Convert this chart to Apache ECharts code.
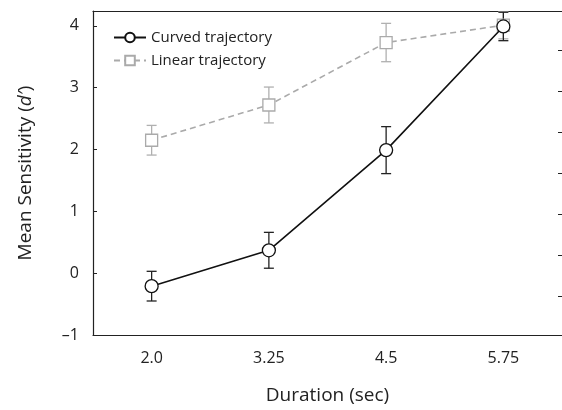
<!DOCTYPE html>
<html><head><meta charset="utf-8">
<script src="https://cdn.jsdelivr.net/npm/echarts@6/dist/echarts.min.js"></script>
<style>html,body{margin:0;padding:0;background:#fff}#c{width:562px;height:410px}</style>
</head><body><div id="c"></div>
<script>
const categories = ['2.0', '3.25', '4.5', '5.75'];
const curvedMean = [-0.21, 0.37, 1.99, 3.99];
const curvedErr = [0.24, 0.29, 0.38, 0.23];
const linearMean = [2.15, 2.72, 3.73, 4.01];
const linearErr = [0.24, 0.29, 0.31, 0.22];
const yTicks = [-1, 0, 1, 2, 3, 4];
const rightTicks = [0, 1, 2, 3, 4, 5, 6];

const FONT = 'Open Sans';
const chart = echarts.init(document.getElementById('c'));

function errSeries(name, mean, err, color) {
  return {
    type: 'custom', name: name + ' err', z: 1, silent: true,
    data: mean.map((m, i) => [i, m - err[i], m + err[i]]),
    renderItem: function (params, api) {
      const lo = api.coord([api.value(0), api.value(1)]);
      const hi = api.coord([api.value(0), api.value(2)]);
      const w = 5;
      const st = { stroke: color, lineWidth: 1.3, fill: null };
      return { type: 'group', children: [
        { type: 'line', shape: { x1: lo[0], y1: lo[1], x2: hi[0], y2: hi[1] }, style: st },
        { type: 'line', shape: { x1: lo[0] - w, y1: lo[1], x2: lo[0] + w, y2: lo[1] }, style: st },
        { type: 'line', shape: { x1: hi[0] - w, y1: hi[1], x2: hi[0] + w, y2: hi[1] }, style: st }
      ]};
    },
    encode: { x: 0, y: [1, 2] }
  };
}

chart.setOption({
  animation: false,
  textStyle: { fontFamily: FONT },
  grid: { left: 93, top: 11, right: 0, bottom: 73 },
  legend: {
    orient: 'vertical', left: 108, top: 25, itemWidth: 32, itemHeight: 12, itemGap: 8,
    textStyle: { fontFamily: FONT, fontSize: 15, color: '#222' },
    data: ['Curved trajectory', 'Linear trajectory']
  },
  xAxis: [{
    type: 'category', data: categories, boundaryGap: true,
    axisLine: { onZero: false, lineStyle: { color: '#222', width: 1.2 } },
    axisTick: { inside: true, alignWithLabel: true, length: 4, lineStyle: { color: '#222' } },
    axisLabel: { fontFamily: FONT, fontSize: 16, color: '#222', margin: 15 },
    name: 'Duration (sec)', nameLocation: 'middle', nameGap: 51,
    nameTextStyle: { fontFamily: FONT, fontSize: 19, color: '#222' }
  }, {
    type: 'category', data: categories, position: 'top', boundaryGap: true,
    axisLine: { onZero: false, lineStyle: { color: '#222', width: 1.2 } },
    axisTick: { inside: true, alignWithLabel: true, length: 4, lineStyle: { color: '#222' } },
    axisLabel: { show: false }
  }],
  yAxis: [{
    type: 'value', min: -1, max: 4.24, interval: 1,
    axisLine: { show: true, onZero: false, lineStyle: { color: '#222', width: 1.2 } },
    axisTick: { show: true, inside: true, length: 4, lineStyle: { color: '#222' } },
    splitLine: { show: false },
    axisLabel: { fontFamily: FONT, fontSize: 16, color: '#222', margin: 14,
      formatter: v => (v < 0 ? '\u2013' + Math.abs(v) : String(v)),
      customValues: yTicks },
    name: 'Mean Sensitivity ({i|d\u2032})', nameLocation: 'middle', nameGap: 58, nameRotate: 90,
    nameTextStyle: { fontFamily: FONT, fontSize: 19, color: '#222',
      rich: { i: { fontFamily: FONT, fontSize: 19, fontStyle: 'italic', color: '#222' } } }
  }, {
    type: 'value', position: 'right', min: -0.95, max: 6.97,
    axisLine: { show: false, onZero: false },
    axisTick: { show: true, inside: true, length: 4, customValues: rightTicks, lineStyle: { color: '#222' } },
    axisLabel: { show: false },
    splitLine: { show: false }
  }],
  series: [
    errSeries('Linear', linearMean, linearErr, '#b0b0b0'),
    errSeries('Curved', curvedMean, curvedErr, '#222'),
    {
      name: 'Linear trajectory', type: 'line', z: 3, data: linearMean,
      symbol: 'rect', symbolSize: 12, showAllSymbol: true,
      lineStyle: { color: '#aaaaaa', width: 1.6, type: [6, 4] },
      itemStyle: { color: '#fff', borderColor: '#aaaaaa', borderWidth: 1.3 }
    },
    {
      name: 'Curved trajectory', type: 'line', z: 4, data: curvedMean,
      symbol: 'circle', symbolSize: 13, showAllSymbol: true,
      lineStyle: { color: '#111', width: 1.6 },
      itemStyle: { color: '#fff', borderColor: '#111', borderWidth: 1.3 }
    }
  ]
});
</script></body></html>
